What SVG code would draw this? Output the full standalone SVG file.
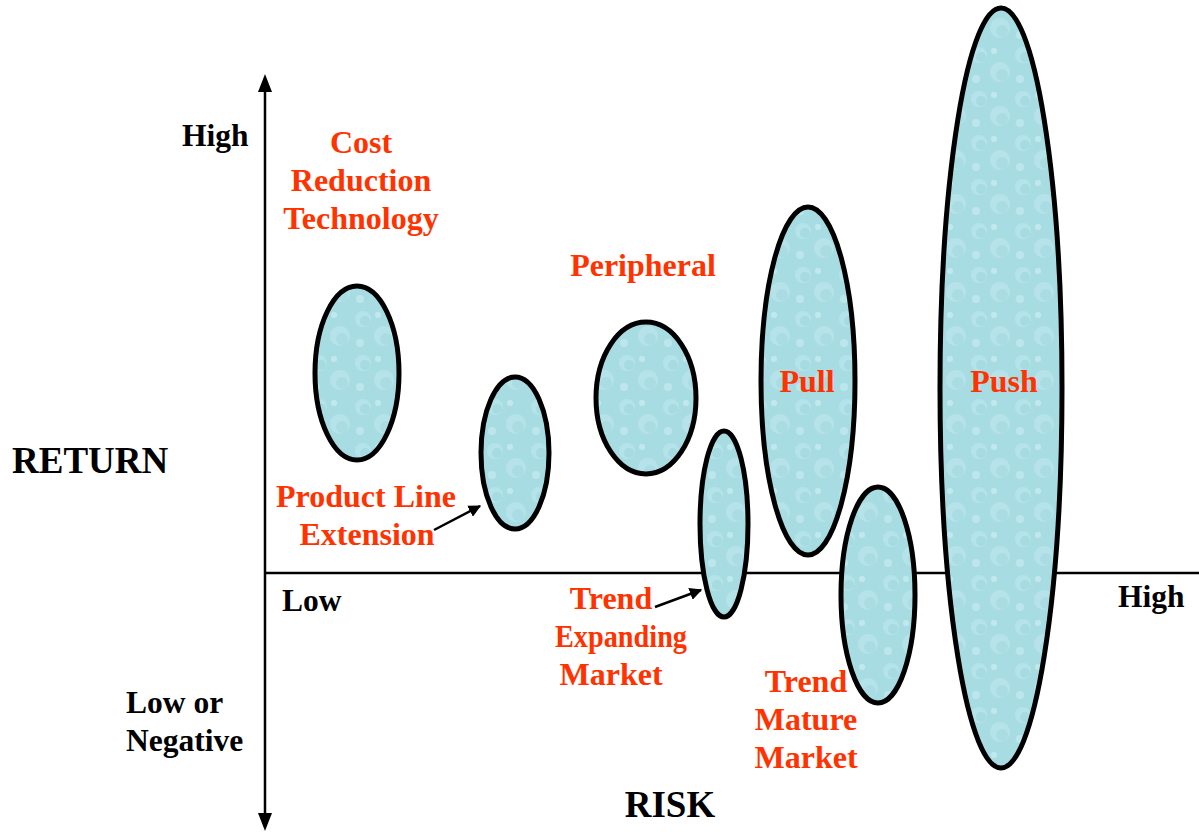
<svg xmlns="http://www.w3.org/2000/svg" width="1199" height="832" viewBox="0 0 1199 832">
<style>
.lbl{font-family:"Liberation Serif","Times New Roman",serif;font-weight:bold;font-size:31.5px;fill:#000}
.red{font-family:"Liberation Serif","Times New Roman",serif;font-weight:bold;font-size:32px;fill:#ff3300;text-anchor:middle}
.big{font-family:"Liberation Serif","Times New Roman",serif;font-weight:bold;font-size:37px;fill:#000}
.bub{fill:url(#water);stroke:#000;stroke-width:5}
.ax{stroke:#000;stroke-width:2.5;fill:none}
.arr{stroke:#000;stroke-width:2.5;fill:none}
</style>
<defs>
<pattern id="water" width="44" height="44" patternUnits="userSpaceOnUse">
<rect width="44" height="44" fill="#a8dce3"/>
<circle cx="11" cy="11" r="8" fill="#bde8ed" opacity="0.6"/>
<circle cx="13" cy="13" r="5" fill="#94d0d9" opacity="0.45"/>
<circle cx="32" cy="28" r="10" fill="#c0e9ee" opacity="0.55"/>
<circle cx="34" cy="31" r="6" fill="#95d1d9" opacity="0.4"/>
<circle cx="26" cy="7" r="3" fill="#d2f1f4" opacity="0.6"/>
<circle cx="8" cy="35" r="4" fill="#cbeef2" opacity="0.55"/>
</pattern>
<marker id="ah" viewBox="0 0 10 10" refX="9" refY="5" markerWidth="5" markerHeight="5" orient="auto">
<path d="M0,0 L10,5 L0,10 z" fill="#000"/>
</marker>
</defs>
<rect width="1199" height="832" fill="#fff"/>
<g id="connectors">
<line class="ax" x1="265" y1="90" x2="265" y2="815"/>
<path d="M265,74 L258,92 L272,92 z" fill="#000"/>
<path d="M265,831 L258,813 L272,813 z" fill="#000"/>
<line class="ax" x1="265" y1="573" x2="1199" y2="573"/>
<line class="arr" x1="434" y1="530" x2="480" y2="506" marker-end="url(#ah)"/>
<line class="arr" x1="655" y1="607" x2="701" y2="590" marker-end="url(#ah)"/>
</g>
<g id="cost-reduction">
<ellipse class="bub" cx="357" cy="373" rx="42" ry="87"/>
<text class="red" x="361" y="153">Cost</text>
<text class="red" x="361" y="191">Reduction</text>
<text class="red" x="361" y="229">Technology</text>
</g>
<g id="product-line">
<ellipse class="bub" cx="515" cy="453" rx="34" ry="76"/>
<text class="red" x="366" y="507">Product Line</text>
<text class="red" x="367" y="545">Extension</text>
</g>
<g id="peripheral">
<ellipse class="bub" cx="646" cy="398" rx="50" ry="76"/>
<text class="red" x="643" y="276">Peripheral</text>
</g>
<g id="trend-expanding">
<ellipse class="bub" cx="724" cy="524" rx="24" ry="93"/>
<text class="red" x="611" y="609">Trend</text>
<text class="red" x="621" y="647" textLength="132" lengthAdjust="spacingAndGlyphs">Expanding</text>
<text class="red" x="611" y="685">Market</text>
</g>
<g id="pull">
<ellipse class="bub" cx="808" cy="381" rx="47" ry="174"/>
<text class="red" x="807" y="392">Pull</text>
</g>
<g id="trend-mature">
<ellipse class="bub" cx="878" cy="595" rx="37" ry="108"/>
<text class="red" x="806" y="692">Trend</text>
<text class="red" x="806" y="730">Mature</text>
<text class="red" x="806" y="768">Market</text>
</g>
<g id="push">
<ellipse class="bub" cx="1001" cy="388" rx="61" ry="380"/>
<text class="red" x="1004" y="392">Push</text>
</g>
<g id="axis-labels">
<text class="lbl" x="182" y="146">High</text>
<text class="big" x="12" y="473">RETURN</text>
<text class="lbl" x="282" y="611">Low</text>
<text class="lbl" x="1118" y="607">High</text>
<text class="lbl" x="126" y="713">Low or</text>
<text class="lbl" x="126" y="751">Negative</text>
<text class="big" x="670" y="817" text-anchor="middle">RISK</text>
</g>
</svg>
